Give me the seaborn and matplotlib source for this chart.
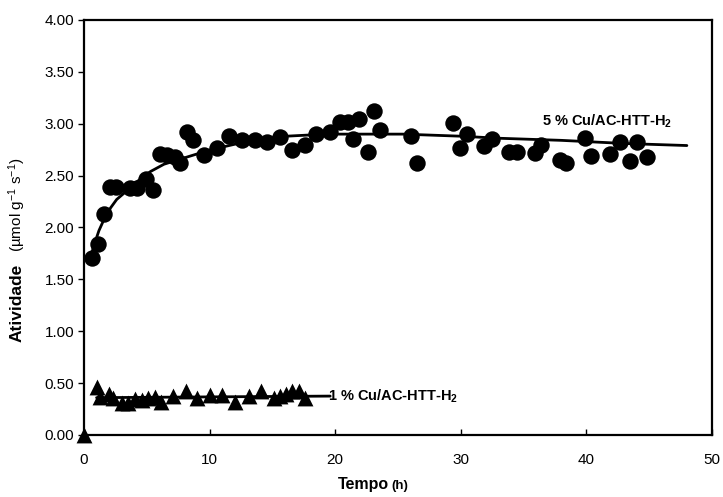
import numpy as np
import pandas as pd
import matplotlib
matplotlib.use("Agg")
import matplotlib.pyplot as plt
import seaborn as sns

sns.set_theme(style="white")
plt.rcParams['font.family'] = ['Liberation Sans', 'DejaVu Sans']
plt.rcParams['mathtext.fontset'] = 'custom'
plt.rcParams['mathtext.rm'] = 'Liberation Sans'
plt.rcParams['mathtext.bf'] = 'Liberation Sans:bold'
plt.rcParams['mathtext.it'] = 'Liberation Sans:italic'
plt.rcParams['text.color'] = 'black'
plt.rcParams['xtick.color'] = 'black'
plt.rcParams['ytick.color'] = 'black'

# 5 % Cu/AC-HTT-H2 (circles)
t5 = [0.61, 1.14, 1.59, 2.07, 2.55, 3.66, 4.2, 4.94, 5.47, 6.05, 6.63, 7.24, 7.64,
      8.17, 8.7, 9.55, 10.56, 11.57, 12.6, 13.6, 14.6, 15.6, 16.6, 17.6, 18.5,
      19.6, 20.4, 21.0, 21.4, 21.9, 22.6, 23.1, 23.6, 26.0, 26.5, 29.35, 29.9,
      30.5, 31.85, 32.5, 33.8, 34.5, 35.9, 36.4, 37.9, 38.4, 39.9, 40.4, 41.9,
      42.7, 43.5, 44.0, 44.8]
a5 = [1.71, 1.84, 2.13, 2.39, 2.39, 2.38, 2.38, 2.47, 2.36, 2.71, 2.70, 2.68, 2.62,
      2.92, 2.84, 2.70, 2.77, 2.88, 2.84, 2.84, 2.82, 2.87, 2.75, 2.80, 2.90,
      2.92, 3.02, 3.02, 2.85, 3.05, 2.73, 3.12, 2.94, 2.88, 2.62, 3.01, 2.77,
      2.90, 2.79, 2.85, 2.73, 2.73, 2.72, 2.80, 2.65, 2.62, 2.86, 2.69, 2.71,
      2.82, 2.64, 2.82, 2.68]

# fitted curve for 5 %
fit5_t = [0.4, 0.8, 1.19, 1.6, 2.12, 2.6, 3.18, 4.2, 5.3, 6.37, 7.96, 10.1, 13.0,
          16.1, 19.3, 22.8, 25.4, 30.0, 33.1, 38.0, 43.0, 48.0]
fit5_a = [1.66, 1.83, 1.97, 2.08, 2.19, 2.27, 2.33, 2.44, 2.54, 2.61, 2.67, 2.75, 2.83,
          2.88, 2.90, 2.90, 2.90, 2.88, 2.86, 2.84, 2.81, 2.79]

# 1 % Cu/AC-HTT-H2 (triangles)
t1 = [0.0, 1.06, 1.3, 2.0, 2.3, 3.0, 3.5, 4.05, 4.6, 5.1, 5.65, 6.1, 7.1, 8.1,
      9.0, 10.0, 11.0, 12.0, 13.1, 14.1, 15.1, 15.6, 16.1, 16.6, 17.1, 17.6]
a1 = [0.0, 0.46, 0.37, 0.40, 0.36, 0.31, 0.31, 0.35, 0.34, 0.36, 0.37, 0.32, 0.38,
      0.42, 0.36, 0.39, 0.39, 0.32, 0.38, 0.42, 0.36, 0.38, 0.40, 0.42, 0.42, 0.36]

# fitted line for 1 %
fit1_t = [1.0, 19.6]
fit1_a = [0.36, 0.375]

xticks = [0, 10, 20, 30, 40, 50]
yticks = [0.0, 0.5, 1.0, 1.5, 2.0, 2.5, 3.0, 3.5, 4.0]
label5 = r"5 % Cu/AC-HTT-H$_\mathbf{2}$"
label1 = r"1 % Cu/AC-HTT-H$_\mathbf{2}$"

df5 = pd.DataFrame({"t": t5, "a": a5})
df1 = pd.DataFrame({"t": t1, "a": a1})
dff5 = pd.DataFrame({"t": fit5_t, "a": fit5_a})
dff1 = pd.DataFrame({"t": fit1_t, "a": fit1_a})

fig = plt.figure(figsize=(7.23, 4.97), dpi=100)
ax = fig.add_axes([84/723, 1-435/497, (712-84)/723, (435-20)/497])

sns.lineplot(data=dff5, x="t", y="a", ax=ax, color='black', lw=2, zorder=2)
sns.lineplot(data=dff1, x="t", y="a", ax=ax, color='black', lw=2, zorder=2)
sns.scatterplot(data=df5, x="t", y="a", ax=ax, marker='o', s=140, color='black',
                edgecolor='black', linewidth=0, zorder=3, clip_on=False)
sns.scatterplot(data=df1, x="t", y="a", ax=ax, marker='^', s=130, color='black',
                edgecolor='black', linewidth=0, zorder=3, clip_on=False)

ax.set_xlim(0, 50)
ax.set_ylim(0, 4)
ax.set_xticks(xticks)
ax.set_yticks(yticks)
ax.set_yticklabels([f"{v:.2f}" for v in yticks])
ax.set_xticklabels([str(v) for v in xticks])
ax.set_xlabel("")
ax.set_ylabel("")
for s in ax.spines.values():
    s.set_color('black')
    s.set_linewidth(1.6)
ax.tick_params(axis='x', direction='in', length=4, width=1, labelsize=11, pad=13, colors='black')
ax.tick_params(axis='y', direction='out', length=4, width=1, labelsize=11, pad=3, colors='black')
ax.tick_params(axis='both', left=True, bottom=True)

ax.text(36.5, 3.02, label5, fontsize=10.5, fontweight='bold', va='center', ha='left')
ax.text(19.4, 0.37, label1, fontsize=10.5, fontweight='bold', va='center', ha='left')

fig.text(17/723, 1-303/497, "Atividade", rotation=90, fontsize=12.5, fontweight='bold',
         ha='center', va='center')
fig.text(17/723, 1-205/497, r"(µmol g$^{-1}$ s$^{-1}$)", rotation=90, fontsize=11,
         ha='center', va='center')
fig.text(389/723, 1-485/497, "Tempo", fontsize=11.5, fontweight='bold', ha='right', va='center')
fig.text(391/723, 1-486/497, "(h)", fontsize=9.5, fontweight='bold', ha='left', va='center')

fig.savefig("out.png", dpi=100)
